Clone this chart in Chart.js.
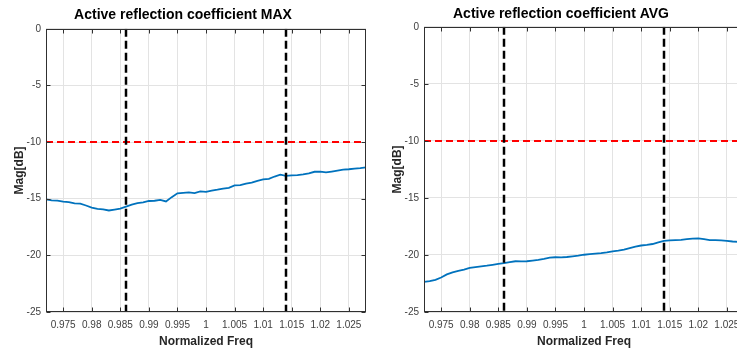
<!DOCTYPE html>
<html>
<head>
<meta charset="utf-8">
<script src="https://cdn.jsdelivr.net/npm/chart.js@4.4.0/dist/chart.umd.min.js"></script>
<style>
  html, body { margin: 0; padding: 0; background: #fff; }
  #wrap { position: relative; width: 737px; height: 352px; overflow: hidden; }
  #wrap canvas { position: absolute; top: 0; }
</style>
</head>
<body>
<div id="wrap">
  <canvas id="maxChart" width="372" height="352" style="left:0"></canvas>
  <canvas id="avgChart" width="372" height="352" style="left:378px"></canvas>
</div>
<script>
// --- data ---
const freq = [
  0.972, 0.973, 0.974, 0.975, 0.976, 0.977, 0.978, 0.979, 0.980, 0.981,
  0.982, 0.983, 0.984, 0.985, 0.986, 0.987, 0.988, 0.989, 0.990, 0.991,
  0.992, 0.993, 0.994, 0.995, 0.996, 0.997, 0.998, 0.999, 1.000, 1.001,
  1.002, 1.003, 1.004, 1.005, 1.006, 1.007, 1.008, 1.009, 1.010, 1.011,
  1.012, 1.013, 1.014, 1.015, 1.016, 1.017, 1.018, 1.019, 1.020, 1.021,
  1.022, 1.023, 1.024, 1.025, 1.026, 1.027, 1.028
];
const magMax = [
  -15.05, -15.14, -15.16, -15.26, -15.30, -15.42, -15.44, -15.60, -15.78, -15.90,
  -15.94, -16.04, -15.96, -15.88, -15.70, -15.52, -15.38, -15.32, -15.20, -15.18,
  -15.10, -15.24, -14.86, -14.52, -14.48, -14.44, -14.50, -14.36, -14.40, -14.28,
  -14.20, -14.10, -14.04, -13.82, -13.80, -13.66, -13.58, -13.42, -13.30, -13.24,
  -13.04, -12.88, -12.98, -12.94, -12.92, -12.86, -12.76, -12.62, -12.60, -12.68,
  -12.60, -12.52, -12.44, -12.40, -12.34, -12.30, -12.24
];
const magAvg = [
  -22.36, -22.30, -22.18, -21.98, -21.70, -21.52, -21.40, -21.28, -21.14, -21.06,
  -21.00, -20.94, -20.86, -20.78, -20.72, -20.62, -20.55, -20.56, -20.55, -20.50,
  -20.44, -20.35, -20.24, -20.20, -20.22, -20.18, -20.12, -20.06, -19.98, -19.92,
  -19.88, -19.84, -19.78, -19.68, -19.62, -19.54, -19.40, -19.26, -19.17, -19.12,
  -19.04, -18.90, -18.77, -18.72, -18.70, -18.68, -18.62, -18.56, -18.54, -18.62,
  -18.70, -18.70, -18.72, -18.76, -18.82, -18.86, -18.90
];
const markerFreqs = [0.986, 1.014];
const threshold = -10;
const xTicks = [0.975, 0.98, 0.985, 0.99, 0.995, 1, 1.005, 1.01, 1.015, 1.02, 1.025];
const yTicks = [0, -5, -10, -15, -20, -25];
const xMin = 0.972, xMax = 1.028;

Chart.defaults.font.family = 'Arial, "Liberation Sans", Helvetica, sans-serif';

// MATLAB style box with inward tick marks
const boxPlugin = {
  id: 'box',
  afterDatasetsDraw(chart) {
    const { ctx, chartArea: a, scales: { x, y } } = chart;
    const l = Math.round(a.left) + 0.5, t = Math.round(a.top) + 0.5;
    const r = Math.round(a.right) - 0.5, b = Math.round(a.bottom) - 0.5;
    ctx.save();
    ctx.strokeStyle = '#303030';
    ctx.lineWidth = 1;
    ctx.strokeRect(l, t, r - l, b - t);
    ctx.beginPath();
    xTicks.forEach(v => {
      const px = Math.round(x.getPixelForValue(v)) + 0.5;
      ctx.moveTo(px, b); ctx.lineTo(px, b - 4);
      ctx.moveTo(px, t); ctx.lineTo(px, t + 4);
    });
    yTicks.forEach(v => {
      const py = Math.round(y.getPixelForValue(v)) + 0.5;
      ctx.moveTo(l, py); ctx.lineTo(l + 4, py);
      ctx.moveTo(r, py); ctx.lineTo(r - 4, py);
    });
    ctx.stroke();
    ctx.restore();
  }
};

function makeChart(id, title, mag, titlePad) {
  return new Chart(document.getElementById(id), {
    type: 'line',
    data: {
      datasets: [
        { data: freq.map((f, i) => ({ x: f, y: mag[i] })), borderColor: '#0072BD', borderWidth: 1.8,
          pointRadius: 0, tension: 0, order: 2 },
        { data: [{ x: xMin, y: threshold }, { x: xMax, y: threshold }], borderColor: '#FF0000',
          borderWidth: 2, borderDash: [7, 4], pointRadius: 0, order: 1 },
        ...markerFreqs.map(f => ({
          data: [{ x: f, y: 0 }, { x: f, y: -25 }], borderColor: '#000000',
          borderWidth: 2.5, borderDash: [8, 4], pointRadius: 0, order: 0
        }))
      ]
    },
    options: {
      responsive: false,
      animation: false,
      layout: { padding: { left: 0, right: 6, top: 0, bottom: 0 } },
      plugins: {
        legend: { display: false },
        tooltip: { enabled: false },
        title: {
          display: true, text: title, color: '#000',
          font: { size: 14, weight: 'bold' }, padding: titlePad
        }
      },
      scales: {
        x: {
          type: 'linear', min: xMin, max: xMax,
          afterBuildTicks: s => { s.ticks = xTicks.map(v => ({ value: v })); },
          afterFit: s => { s.height = 40; },
          grid: { color: '#e3e3e3', drawTicks: false },
          border: { display: false },
          ticks: { padding: 7, color: '#404040', font: { size: 10 }, autoSkip: false, maxRotation: 0,
            callback: v => String(v) },
          title: { display: true, text: 'Normalized Freq', color: '#262626',
            font: { size: 12, weight: 'bold' }, padding: { top: 0, bottom: 3 } }
        },
        y: {
          min: -25, max: 0,
          afterBuildTicks: s => { s.ticks = yTicks.map(v => ({ value: v })); },
          afterFit: s => { s.width = 46; },
          grid: { color: '#e3e3e3', drawTicks: false },
          border: { display: false },
          ticks: { padding: 5, color: '#404040', font: { size: 10 }, callback: v => String(v) },
          title: { display: true, text: 'Mag[dB]', color: '#262626',
            font: { size: 12, weight: 'bold' }, padding: { top: 12, bottom: 0 } }
        }
      }
    },
    plugins: [boxPlugin]
  });
}

makeChart('maxChart', 'Active reflection coefficient MAX', magMax, { top: 7, bottom: 5 });
makeChart('avgChart', 'Active reflection coefficient AVG', magAvg, { top: 6, bottom: 4 });
</script>
</body>
</html>
